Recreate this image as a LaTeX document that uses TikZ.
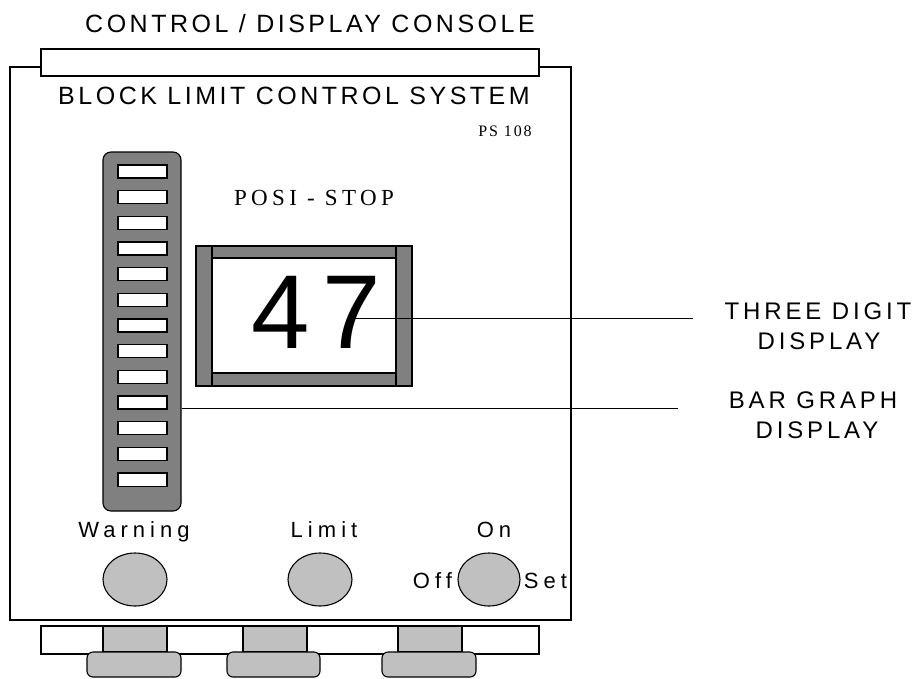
\documentclass[tikz,border=0pt]{standalone}
\usepackage{fontspec}
\setmainfont{Liberation Sans}
\usetikzlibrary{shapes.geometric}
\newfontfamily\sansA[LetterSpace=14]{Liberation Sans}
\newfontfamily\sansB[LetterSpace=23]{Liberation Sans}
\newfontfamily\sansC[LetterSpace=16]{Liberation Sans}
\newfontfamily\serifA[LetterSpace=19]{Liberation Serif}
\newfontfamily\serifB[LetterSpace=12]{Liberation Serif}
\newfontfamily\bigdig[LetterSpace=12]{Liberation Sans}
\definecolor{dgray}{HTML}{808080}
\definecolor{lgray}{HTML}{C0C0C0}
\begin{document}
\begin{tikzpicture}[x=1pt,y=-1pt,line width=1.1pt,
  dark/.style={draw=black,fill=dgray},
  light/.style={draw=black,fill=lgray},
  plain/.style={draw=black,fill=white},
  txt/.style={inner sep=0pt,anchor=base},
  conn/.style={draw=black,line width=1pt},
  btn/.style={light,ellipse,inner sep=0pt,minimum width=64pt,minimum height=53pt}]
\useasboundingbox (0,0) rectangle (915,678);
\fill[white] (0,0) rectangle (915,678);

% title
\node[txt,font=\sansA\fontsize{25}{29}\selectfont] (title) at (310,32) {CONTROL / DISPLAY CONSOLE};

% main housing
\draw (10,67) rectangle (571,620);
\draw[plain] (41,49) rectangle (539,76);
\node[txt,font=\sansA\fontsize{25}{29}\selectfont] (sysname) at (294,104) {BLOCK LIMIT CONTROL SYSTEM};
\node[txt,font=\serifB\fontsize{16}{18}\selectfont] (model) at (505,136) {PS 108};

% bar graph
\node[dark,rounded corners=8pt,inner sep=0pt,minimum width=78pt,minimum height=359pt] (bar) at (142,331.5) {};
\foreach \i in {0,...,12}{
  \pgfmathsetmacro\yy{165+25.67*\i}
  \draw[plain] (118,\yy) rectangle (167,\yy+13);
}

% posi-stop display
\node[txt,font=\serifA\fontsize{23}{27}\selectfont] (brand) at (314,205) {POSI - STOP};
\draw[dark] (196,246) rectangle (212,386);
\draw[dark] (396,246) rectangle (412,386);
\draw[dark] (212,246) rectangle (396,258);
\draw[dark] (212,373) rectangle (396,386);
\node[txt,font=\bigdig\fontsize{105}{110}\selectfont] (digits) at (316,348) {47};

% labels right
\node[txt,font=\sansC\fontsize{24}{28}\selectfont] (tdl1) at (818,319) {THREE DIGIT};
\node[txt,font=\sansC\fontsize{24}{28}\selectfont] (tdl2) at (819,349) {DISPLAY};
\node[txt,font=\sansC\fontsize{24}{28}\selectfont] (bgl1) at (813,408) {BAR GRAPH};
\node[txt,font=\sansC\fontsize{24}{28}\selectfont] (bgl2) at (817,438) {DISPLAY};

% connectors
\coordinate (tdstart) at (355,318);
\coordinate (tdend) at (693,318);
\coordinate (bgend) at (678,408);
\draw[conn] (tdstart) -- (tdend);
\draw[conn] (bgend -| bar.east) -- (bgend);

% buttons
\node[txt,font=\sansB\fontsize{22}{26}\selectfont] (warnl) at (134,537) {Warning};
\node[txt,font=\sansB\fontsize{22}{26}\selectfont] (liml) at (324,537) {Limit};
\node[txt,font=\sansB\fontsize{22}{26}\selectfont] (onl) at (494,537) {On};
\node[btn] (warnbtn) at (135,579.5) {};
\node[btn] (limbtn) at (320,579.5) {};
\node[btn,minimum width=62pt] (onbtn) at (489,579.5) {};
\node[txt,font=\sansB\fontsize{22}{26}\selectfont] (offl) at (432.5,588) {Off};
\node[txt,font=\sansB\fontsize{22}{26}\selectfont] (setl) at (545.5,588) {Set};

% bottom rail and knobs
\draw[plain] (41,626) rectangle (539,654);
\foreach \a/\b in {103/167,243/307,398/462}{
  \draw[light] (\a,626) rectangle (\b,652);
}
\foreach \a/\b in {87/181,227/320,382/476}{
  \draw[light,rounded corners=6pt] (\a,652) rectangle (\b,677);
}
\end{tikzpicture}
\end{document}
